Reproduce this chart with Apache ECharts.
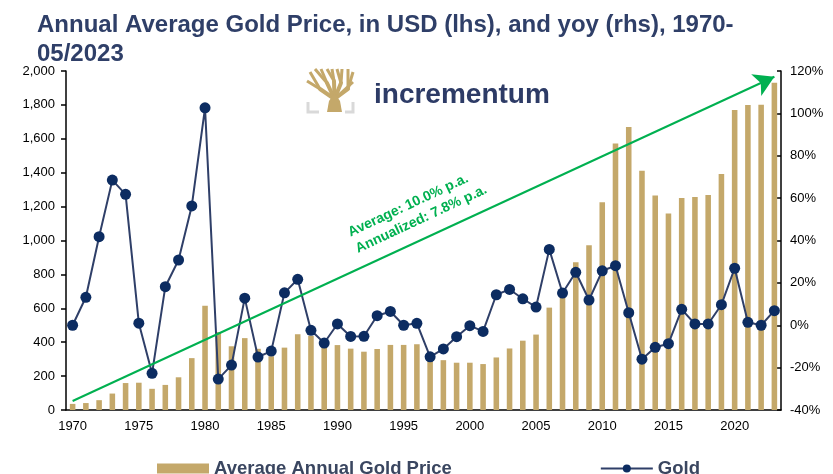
<!DOCTYPE html>
<html>
<head>
<meta charset="utf-8">
<title>Annual Average Gold Price</title>
<script src="https://cdn.jsdelivr.net/npm/echarts@6/dist/echarts.min.js"></script>
<style>
  html, body { margin: 0; padding: 0; background: #fff; }
  #chart { width: 833px; height: 474px; }
</style>
</head>
<body>
<div id="chart"></div>
<script>
const years = ['1970', '1971', '1972', '1973', '1974', '1975', '1976', '1977', '1978', '1979',
  '1980', '1981', '1982', '1983', '1984', '1985', '1986', '1987', '1988', '1989',
  '1990', '1991', '1992', '1993', '1994', '1995', '1996', '1997', '1998', '1999',
  '2000', '2001', '2002', '2003', '2004', '2005', '2006', '2007', '2008', '2009',
  '2010', '2011', '2012', '2013', '2014', '2015', '2016', '2017', '2018', '2019',
  '2020', '2021', '2022', '2023']

// average annual gold price, USD (lhs)
const avgPrice = [36, 41, 58, 97, 159, 161, 125, 148, 193, 306,
  615, 460, 376, 424, 361, 317, 368, 447, 437, 381,
  383, 362, 344, 360, 384, 384, 388, 331, 294, 279,
  279, 271, 310, 363, 409, 445, 604, 695, 872, 972,
  1225, 1572, 1669, 1411, 1266, 1160, 1251, 1257, 1268, 1393,
  1770, 1799, 1801, 1930]

// yoy change in % (rhs)
const yoy = [0, 13.2, 41.8, 68.5, 61.8, 1, -22.7, 18.2, 30.8, 56.3,
  102.6, -25.4, -18.8, 12.8, -15, -12.2, 15.3, 21.7, -2.4, -8.4,
  0.6, -5.3, -5.2, 4.5, 6.5, 0, 0.9, -14.9, -11.2, -5.4,
  -0.2, -2.9, 14.4, 16.9, 12.5, 8.6, 35.8, 15.2, 25, 11.9,
  25.7, 28.1, 5.9, -16, -10.4, -8.7, 7.5, 0.6, 0.6, 9.7,
  26.9, 1.4, 0, 6.9]

// trend arrow, from/to on the lhs scale
const trendStart = ['1970', 53]
const trendEnd = ['2023', 1966]
const trendText = 'Average: 10.0% p.a.\nAnnualized: 7.8% p.a.'

const gold = '#c4a86a'
const navy = '#2f3f68'
const green = '#00b050'
const font = 'Liberation Sans, Arial, sans-serif'

const chart = echarts.init(document.getElementById('chart'), null, { renderer: 'canvas' })

// logo: simple tree (branches forking off a trunk) + grey corner brackets
const logoChildren = []
const forks = [[13, 20], [20, 14], [27, 12], [34, 14], [41, 20]]
const tips = [
  [[0, 12], [3, 3]], [[8, 0], [14, 0]], [[20, 0], [25, 0]],
  [[30, 0], [35, 0]], [[41, 0], [46, 3]]
]
forks.forEach((f, i) => {
  logoChildren.push({
    type: 'line',
    shape: { x1: 27.5, y1: 30, x2: f[0], y2: f[1] },
    style: { stroke: gold, lineWidth: 4, lineCap: 'round' }
  })
  tips[i].forEach(t => {
    logoChildren.push({
      type: 'line',
      shape: { x1: f[0], y1: f[1], x2: t[0], y2: t[1] },
      style: { stroke: gold, lineWidth: 3 }
    })
  })
})
logoChildren.push({
  type: 'line',
  shape: { x1: 27.5, y1: 30, x2: 46, y2: 13 },
  style: { stroke: gold, lineWidth: 3 }
})
logoChildren.push({
  type: 'polygon',
  shape: { points: [[20, 43], [22, 32], [27.5, 24], [33, 32], [35, 43]] },
  style: { fill: gold }
})
logoChildren.push({
  type: 'polyline',
  shape: { points: [[1, 33], [1, 43], [12, 43]] },
  style: { stroke: '#d9d9d9', lineWidth: 3, fill: null }
})
logoChildren.push({
  type: 'polyline',
  shape: { points: [[38, 43], [46, 43], [46, 33]] },
  style: { stroke: '#d9d9d9', lineWidth: 3, fill: null }
})

const option = {
  animation: false,
  title: {
    text: 'Annual Average Gold Price, in USD (lhs), and yoy (rhs), 1970-\n05/2023',
    left: 32,
    top: 6,
    textStyle: {
      fontFamily: font,
      fontSize: 24,
      fontWeight: 'bold',
      color: navy,
      lineHeight: 29
    }
  },
  legend: {
    top: 454,
    left: 152,
    itemWidth: 52,
    itemHeight: 10,
    itemGap: 148,
    textStyle: { fontFamily: font, fontSize: 18.5, fontWeight: 'bold', color: '#3a4660' },
    data: [
      { name: 'Average Annual Gold Price', icon: 'rect' },
      { name: 'Gold' }
    ]
  },
  grid: { left: 66, right: 52, top: 71, bottom: 64 },
  xAxis: {
    type: 'category',
    data: years,
    boundaryGap: true,
    axisLine: { lineStyle: { color: '#000', width: 1.5 } },
    axisTick: { interval: 4, length: 5, lineStyle: { color: '#000', width: 1.5 } },
    axisLabel: { interval: 4, margin: 10, fontFamily: font, fontSize: 13, color: '#000' }
  },
  yAxis: [
    {
      type: 'value',
      min: 0,
      max: 2000,
      interval: 200,
      splitLine: { show: false },
      axisLine: { show: true, lineStyle: { color: '#000', width: 1.5 } },
      axisTick: { show: true, length: 5, lineStyle: { color: '#000', width: 1.5 } },
      axisLabel: {
        margin: 11,
        fontFamily: font,
        fontSize: 13,
        color: '#000',
        formatter: v => v.toLocaleString('en-US')
      }
    },
    {
      type: 'value',
      min: -40,
      max: 120,
      interval: 20,
      position: 'right',
      splitLine: { show: false },
      axisLine: { show: true, lineStyle: { color: '#000', width: 1.5 } },
      axisTick: { show: true, inside: true, length: 4, lineStyle: { color: '#000', width: 1.5 } },
      axisLabel: { margin: 9, fontFamily: font, fontSize: 13, color: '#000', formatter: '{value}%' }
    }
  ],
  series: [
    {
      name: 'Average Annual Gold Price',
      type: 'bar',
      data: avgPrice,
      barWidth: '42%',
      itemStyle: { color: gold },
      markLine: {
        silent: true,
        symbol: ['none', 'arrow'],
        symbolSize: [18, 20],
        label: { show: false },
        lineStyle: { color: green, width: 2, type: 'solid' },
        data: [[
          { coord: trendStart },
          { coord: trendEnd }
        ]]
      }
    },
    {
      name: 'Gold',
      type: 'line',
      yAxisIndex: 1,
      data: yoy,
      symbol: 'circle',
      symbolSize: 11,
      showAllSymbol: true,
      itemStyle: { color: '#0c2c61' },
      lineStyle: { color: navy, width: 2 },
      z: 3
    }
  ],
  graphic: [
    {
      type: 'group',
      x: 307,
      y: 69,
      children: logoChildren
    },
    {
      type: 'text',
      x: 374,
      y: 95,
      style: {
        text: 'incrementum',
        fontFamily: font,
        fontSize: 28,
        fontWeight: 'bold',
        fill: '#2d3b66',
        align: 'left',
        verticalAlign: 'middle'
      }
    },
    {
      type: 'text',
      x: 345,
      y: 225,
      rotation: 25 * Math.PI / 180,
      style: {
        text: trendText,
        fontFamily: font,
        fontSize: 14,
        fontWeight: 'bold',
        lineHeight: 18,
        fill: green,
        align: 'left',
        verticalAlign: 'top'
      }
    }
  ]
}

chart.setOption(option)
</script>
</body>
</html>
